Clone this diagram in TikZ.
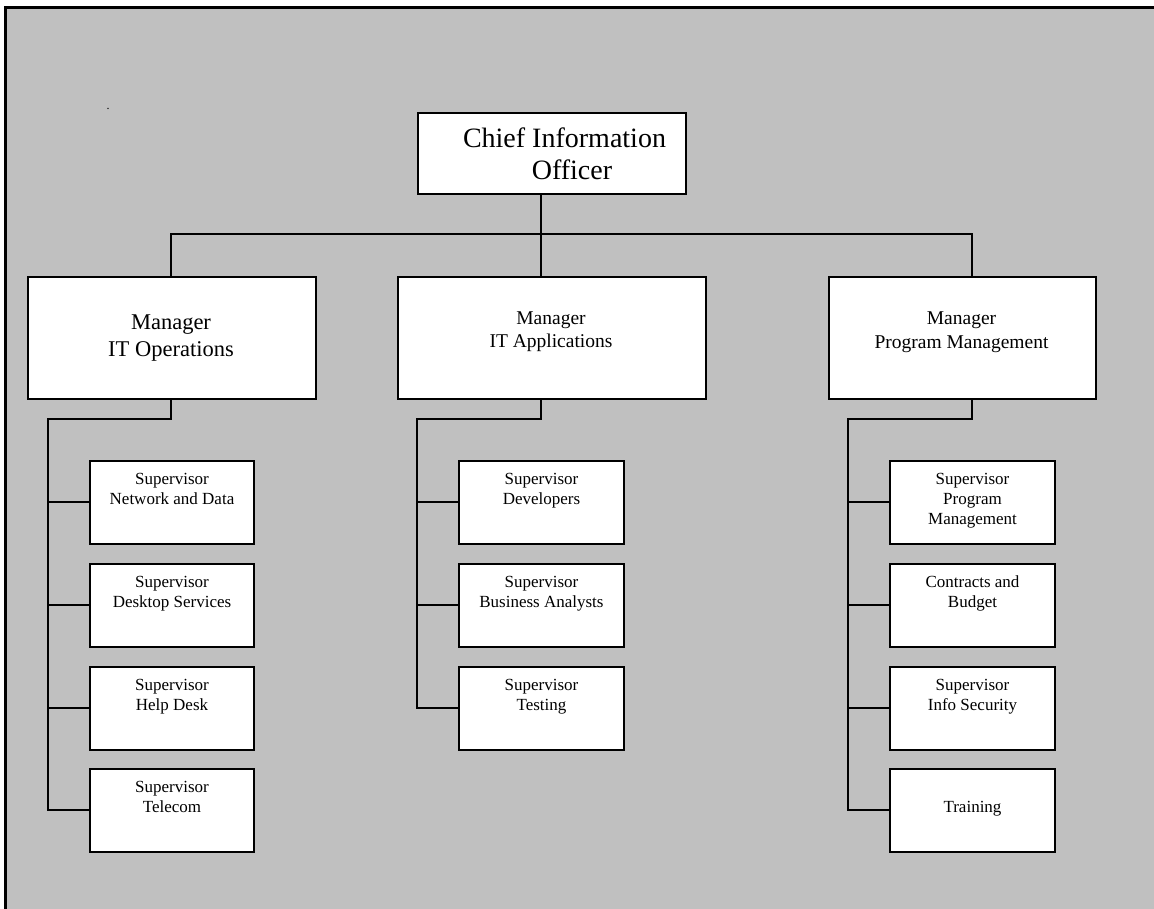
\documentclass[tikz,border=0pt]{standalone}
\usepackage{fontspec}
\setmainfont{Liberation Serif}
\definecolor{panel}{RGB}{192,192,192}
\begin{document}
\begin{tikzpicture}[x=1pt,y=-1pt,
  box/.style={draw=black, fill=white, line width=2pt, inner sep=0pt, anchor=north west},
  supbox/.style={box, minimum height=82.5pt},
  link/.style={draw=black, line width=1.7pt},
  suptxt/.style={anchor=north, inner sep=0pt, align=center, font=\fontsize{17}{20}\selectfont},
  mgrtxt/.style={inner sep=0pt, align=center, font=\fontsize{19.5}{23.5}\selectfont},
]
\useasboundingbox (0,0) rectangle (1154,909);
% background panel with its frame
\fill[white] (0,0) rectangle (1154,909);
\fill[panel] (5.5,7.5) rectangle (1154,909);
\draw[line width=2.5pt] (5.5,909) -- (5.5,7.5) -- (1154,7.5);
\node[inner sep=0pt, font=\fontsize{12}{12}\selectfont] (dot) at (108,109) {.};

% branch points
\coordinate (hub) at (541,234);
\coordinate (b1) at (171,234);
\coordinate (b3) at (972,234);
\coordinate (t1) at (48,419);
\coordinate (t2) at (417,419);
\coordinate (t3) at (848,419);

% top level
\node[box, minimum width=268pt, minimum height=81pt] (cio) at (417,112) {};
\node[box, minimum width=288pt, minimum height=122pt] (m1) at (27,276) {};
\node[box, minimum width=308pt, minimum height=122pt] (m2) at (397,276) {};
\node[box, minimum width=267pt, minimum height=122pt] (m3) at (828,276) {};

% supervisors, IT Operations
\node[supbox, minimum width=164pt] (a1) at (89,460) {};
\node[supbox, minimum width=164pt] (a2) at (89,563) {};
\node[supbox, minimum width=164pt] (a3) at (89,666) {};
\node[supbox, minimum width=164pt] (a4) at (89,768) {};
% supervisors, IT Applications
\node[supbox, minimum width=165pt] (b1box) at (458,460) {};
\node[supbox, minimum width=165pt] (b2box) at (458,563) {};
\node[supbox, minimum width=165pt] (b3box) at (458,666) {};
% supervisors, Program Management
\node[supbox, minimum width=165pt] (c1) at (889,460) {};
\node[supbox, minimum width=165pt] (c2) at (889,563) {};
\node[supbox, minimum width=165pt] (c3) at (889,666) {};
\node[supbox, minimum width=165pt] (c4) at (889,768) {};

% connectors
\draw[link] (cio.south -| hub) -- (m2.north -| hub);
\draw[link] (m1.north -| b1) -- (b1) -- (b3) -- (m3.north -| b3);

\draw[link] (m1.south -| b1) |- (t1) -- (t1 |- a4.west) -- (a4.west);
\foreach \s in {a1,a2,a3} \draw[link] (t1 |- \s.west) -- (\s.west);

\draw[link] (m2.south -| hub) |- (t2) -- (t2 |- b3box.west) -- (b3box.west);
\foreach \s in {b1box,b2box} \draw[link] (t2 |- \s.west) -- (\s.west);

\draw[link] (m3.south -| b3) |- (t3) -- (t3 |- c4.west) -- (c4.west);
\foreach \s in {c1,c2,c3} \draw[link] (t3 |- \s.west) -- (\s.west);

% titles
\node[inner sep=0pt, align=center, font=\fontsize{28}{32}\selectfont] (ciotxt) at (551,154)
  {\hspace*{27pt}Chief Information\\\hspace*{42pt}Officer};
\node[inner sep=0pt, align=center, font=\fontsize{22.5}{27}\selectfont] (m1txt) at (171,338.5)
  {Manager\\IT Operations};
\node[mgrtxt] (m2txt) at (551,331.5) {Manager\\IT Applications};
\node[mgrtxt] (m3txt) at (961.5,332) {Manager\\Program Management};

\node[suptxt] (a1txt) at ([yshift=-13pt]a1.north) {Supervisor\\Network and Data};
\node[suptxt] (a2txt) at ([yshift=-13pt]a2.north) {Supervisor\\Desktop Services};
\node[suptxt] (a3txt) at ([yshift=-13pt]a3.north) {Supervisor\\Help Desk};
\node[suptxt] (a4txt) at ([yshift=-13pt]a4.north) {Supervisor\\Telecom};

\node[suptxt] (b1txt) at ([yshift=-13pt]b1box.north) {Supervisor\\Developers};
\node[suptxt] (b2txt) at ([yshift=-13pt]b2box.north) {Supervisor\\Business Analysts};
\node[suptxt] (b3txt) at ([yshift=-13pt]b3box.north) {Supervisor\\Testing};

\node[suptxt] (c1txt) at ([yshift=-13pt]c1.north) {Supervisor\\Program\\Management};
\node[suptxt] (c2txt) at ([yshift=-13pt]c2.north) {Contracts and\\Budget};
\node[suptxt] (c3txt) at ([yshift=-13pt]c3.north) {Supervisor\\Info Security};
\node[suptxt] (c4txt) at ([yshift=-33pt]c4.north) {Training};
\end{tikzpicture}
\end{document}
